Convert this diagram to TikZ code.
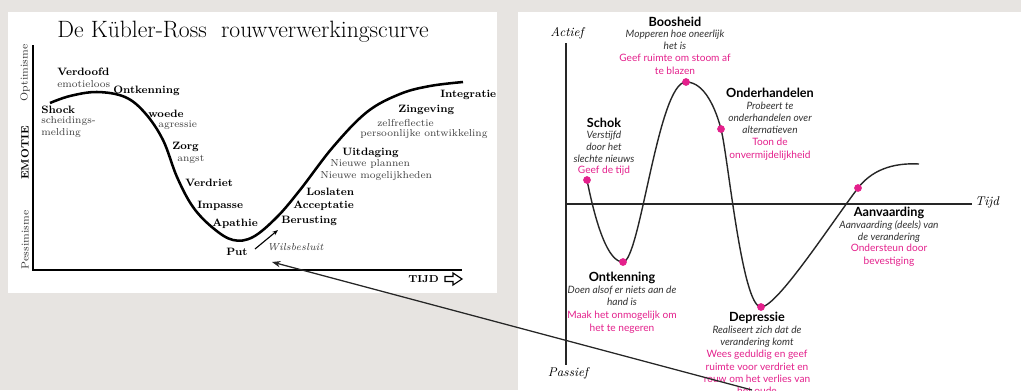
\documentclass[tikz,border=0pt]{standalone}
\usepackage{fontspec}
\newfontfamily\sansfont{Lato}
\usepackage{tikz}
\usetikzlibrary{arrows.meta}

\definecolor{roze}{RGB}{228,32,140}
\definecolor{achtergrond}{RGB}{231,228,225}

\tikzset{
    fase/.style={font=\fontsize{7.6}{8}\selectfont\bfseries, anchor=west, inner sep=0pt},
    uitleg/.style={font=\fontsize{7.2}{8.4}\selectfont, anchor=west, align=left, inner sep=0pt, text=black!75},
    as/.style={font=\fontsize{7.4}{8}\selectfont, rotate=90, inner sep=0pt, text=black!80},
    kop/.style={font=\sansfont\fontsize{9}{10}\selectfont\bfseries, inner sep=0pt},
    tekst/.style={font=\sansfont\fontsize{7.2}{8.8}\selectfont\itshape, anchor=north, align=center, inner sep=0pt, text=black!80},
    advies/.style={font=\sansfont\fontsize{7.2}{8.8}\selectfont, anchor=north, align=center, inner sep=0pt, text=roze},
    hand/.style={font=\fontsize{9}{10}\selectfont\itshape, inner sep=0pt},
    punt/.style={circle, fill=roze, inner sep=0pt, minimum size=5.5pt}
}

\begin{document}
\begin{tikzpicture}[x=0.025cm, y=-0.025cm]
            \useasboundingbox (0,0) rectangle (1021,390);
            \clip (0,0) rectangle (1021,390);
            \fill[achtergrond] (0,0) rectangle (1021,390);
            \fill[white] (8,12) rectangle (497,293);
            \fill[white] (518,12) rectangle (1021,390);

            % links: de curve van Kubler-Ross
            \node[font=\fontsize{16.8}{18}\selectfont, inner sep=0pt] (titel) at (243,32) {De K\"ubler-Ross\ \ rouwverwerkingscurve};
            \draw[line width=2.1pt] (33,45) -- (33,270) -- (462,270);
            \node[as] (optimisme) at (25,73) {Optimisme};
            \node[as, font=\fontsize{7.6}{8}\selectfont\bfseries, text=black] (emotie) at (25,153) {EMOTIE};
            \node[as] (pessimisme) at (25,240) {Pessimisme};
            \node[fase, font=\fontsize{7.2}{8}\selectfont\bfseries] (tijd) at (408,279) {TIJD};
            \draw[line width=0.8pt, line join=miter] (445,276.5) -- (453,276.5) -- (453,273) -- (462,279) -- (453,285) -- (453,281.5) -- (445,281.5) -- cycle;
            \draw[line width=1.8pt] plot[smooth, tension=0.6] coordinates {(50,103) (70,96) (97,92) (125,97) (145,113) (163,140) (177,177) (193,207) (213,228) (233,240) (253,237) (277,217) (300,190) (333,147) (367,112) (400,94) (430,86) (463,82)};

            \node[fase] (verdoofd) at (57,72) {Verdoofd};
            \node[uitleg] (emotieloos) at (57,84) {emotieloos};
            \node[fase] (ontkenningL) at (113,91) {Ontkenning};
            \node[fase] (shock) at (41,110) {Shock};
            \node[uitleg, anchor=north west] (melding) at (41,116) {scheidings-\\melding};
            \node[fase] (woede) at (148,114) {woede};
            \node[uitleg] (agressie) at (158,125) {agressie};
            \node[fase] (zorg) at (172,147) {Zorg};
            \node[uitleg] (angst) at (177,159) {angst};
            \node[fase] (verdriet) at (185,183) {Verdriet};
            \node[fase] (impasse) at (197,206) {Impasse};
            \node[fase] (apathie) at (212,224) {Apathie};
            \node[fase] (put) at (226,252) {Put};
            \node[uitleg, font=\fontsize{7.2}{8.4}\selectfont\itshape] (wilsbesluit) at (267,247) {Wilsbesluit};
            \node[fase] (berusting) at (281,221) {Berusting};
            \node[fase] (acceptatie) at (293,206) {Acceptatie};
            \node[fase] (loslaten) at (306,192) {Loslaten};
            \node[fase] (uitdaging) at (342,153) {Uitdaging};
            \node[uitleg] (plannen) at (330,164) {Nieuwe plannen};
            \node[uitleg] (mogelijk) at (320,176) {Nieuwe mogelijkheden};
            \node[fase] (zingeving) at (398,110) {Zingeving};
            \node[uitleg] (reflectie) at (377,123) {zelfreflectie};
            \node[uitleg] (ontwikkeling) at (360,134) {persoonlijke ontwikkeling};
            \node[fase] (integratie) at (440,95) {Integratie};

            \coordinate (wilsvan) at (255,249);
            \coordinate (wilsnaar) at (278,230);
            \draw[thick, -{Stealth[length=4pt]}] (wilsvan) -- (wilsnaar);

            % rechts: actief en passief in de tijd
            \draw[line width=1pt, black!85] (566,43) -- (566,365);
            \draw[line width=1pt, black!85] (566,204) -- (972,204);
            \node[hand] (actief) at (567,33) {Actief};
            \node[hand] (passief) at (568,373) {Passief};
            \node[hand] (tijdR) at (987,202) {Tijd};
            \draw[line width=1pt, black!85] (587,180) .. controls (596,225) and (608,262) .. (623,262)
                .. controls (640,262) and (658,82) .. (686,82)
                .. controls (705,82) and (716,110) .. (721,129)
                .. controls (728,156) and (742,307) .. (761,307)
                .. controls (777,307) and (830,225) .. (858,188)
                .. controls (875,166) and (900,163) .. (919,164);

            \node[punt] (pSchok) at (587,180) {};
            \node[punt] (pOntkenning) at (623,262) {};
            \node[punt] (pBoosheid) at (686,82) {};
            \node[punt] (pOnderhandelen) at (721,129) {};
            \node[punt] (pDepressie) at (761,307) {};
            \node[punt] (pAanvaarding) at (858,188) {};

            \node[kop] (boosheid) at (675,22) {Boosheid};
            \node[tekst] (boosheidT) at (675,29.5) {Mopperen hoe oneerlijk\\het is};
            \node[advies] (boosheidA) at (675,54) {Geef ruimte om stoom af\\te blazen};

            \node[kop] (schok) at (604,123) {Schok};
            \node[tekst] (schokT) at (604,130.5) {Verstijfd\\door het\\slechte nieuws};
            \node[advies] (schokA) at (604,166) {Geef de tijd};

            \node[kop] (onderhandelen) at (770,93) {Onderhandelen};
            \node[tekst] (onderhandelenT) at (770,101.5) {Probeert te\\onderhandelen over\\alternatieven};
            \node[advies] (onderhandelenA) at (770,138) {Toon de\\onvermijdelijkheid};

            \node[kop] (ontkenning) at (622,278) {Ontkenning};
            \node[tekst] (ontkenningT) at (622,285.5) {Doen alsof er niets aan de\\hand is};
            \node[advies] (ontkenningA) at (622,311) {Maak het onmogelijk om\\het te negeren};

            \node[kop] (aanvaarding) at (889,213) {Aanvaarding};
            \node[tekst] (aanvaardingT) at (889,220) {Aanvaarding (deels) van\\de verandering};
            \node[advies] (aanvaardingA) at (889,244) {Ondersteun door\\bevestiging};

            \node[kop] (depressie) at (757,318) {Depressie};
            \node[tekst] (depressieT) at (757,325.5) {Realiseert zich dat de\\verandering komt};
            \node[advies] (depressieA) at (757,350) {Wees geduldig en geef\\ruimte voor verdriet en\\rouw om het verlies van\\het oude};

            % verwijzing naar het wilsbesluit
            \coordinate (verwijsvan) at (752,390);
            \coordinate (verwijsnaar) at (272,262);
            \draw[line width=0.9pt, black!85, -{Stealth[length=6pt]}] (verwijsvan) -- (verwijsnaar);
        \end{tikzpicture}
\end{document}
